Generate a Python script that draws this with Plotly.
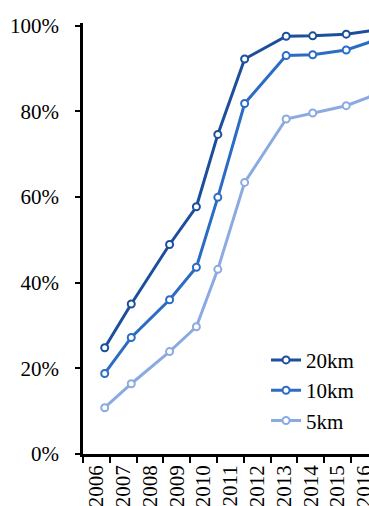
import plotly.graph_objects as go

# Observation times (decimal years) and coverage values (%)
obs_time = [2006.81, 2007.80, 2009.23, 2010.23, 2011.03, 2012.03, 2013.58, 2014.57, 2015.82, 2016.83]
cov_20km = [24.8, 35.0, 48.9, 57.7, 74.6, 92.2, 97.5, 97.6, 98.0, 98.9]
cov_10km = [18.8, 27.2, 36.0, 43.6, 59.9, 81.8, 93.0, 93.2, 94.3, 96.4]
cov_5km = [10.8, 16.4, 23.9, 29.7, 43.1, 63.4, 78.2, 79.6, 81.3, 83.7]

years = [2006, 2007, 2008, 2009, 2010, 2011, 2012, 2013, 2014, 2015, 2016]
y_ticks = [0, 20, 40, 60, 80, 100]
y_labels = ["0%", "20%", "40%", "60%", "80%", "100%"]

series = [
    ("20km", cov_20km, "#1b4f9c"),
    ("10km", cov_10km, "#2b6cc4"),
    ("5km", cov_5km, "#8caae2"),
]

fig = go.Figure()
for name, vals, col in series:
    fig.add_trace(go.Scatter(
        x=obs_time, y=vals, name=name, mode="lines+markers",
        line=dict(color=col, width=3),
        marker=dict(symbol="circle", size=7, color="white",
                    line=dict(color=col, width=2)),
    ))

font = dict(family="Liberation Serif", size=21, color="black")

fig.update_layout(
    width=369, height=506,
    margin=dict(l=83, r=0, t=23, b=52),
    paper_bgcolor="white", plot_bgcolor="white",
    font=font,
    showlegend=True,
    legend=dict(x=0.64, y=0.265, xanchor="left", yanchor="top",
                bgcolor="rgba(0,0,0,0)", font=font),
    xaxis=dict(
        range=[2006, 2016.67],
        tickvals=[y + 0.5 for y in years],
        ticktext=[str(y) for y in years],
        tickangle=-90,
        ticks="",
        ticklabeloverflow="allow",
        showgrid=False, zeroline=False,
        showline=True, linecolor="black", linewidth=2.5,
        minor=dict(tickvals=years + [2017], ticks="outside", ticklen=6,
                   tickwidth=2, tickcolor="black", showgrid=False),
        tickfont=font,
        automargin=False,
    ),
    yaxis=dict(
        range=[0, 100.6],
        tickvals=y_ticks,
        ticktext=y_labels,
        ticks="outside", ticklen=5, tickwidth=2, tickcolor="black",
        ticklabelstandoff=12,
        showgrid=False, zeroline=False,
        showline=True, linecolor="black", linewidth=2.5,
        tickfont=font,
        automargin=False,
    ),
)

fig.write_html("out.html", config={"displayModeBar": False},
               post_script="document.body.style.margin='0';document.body.style.overflow='hidden';")
